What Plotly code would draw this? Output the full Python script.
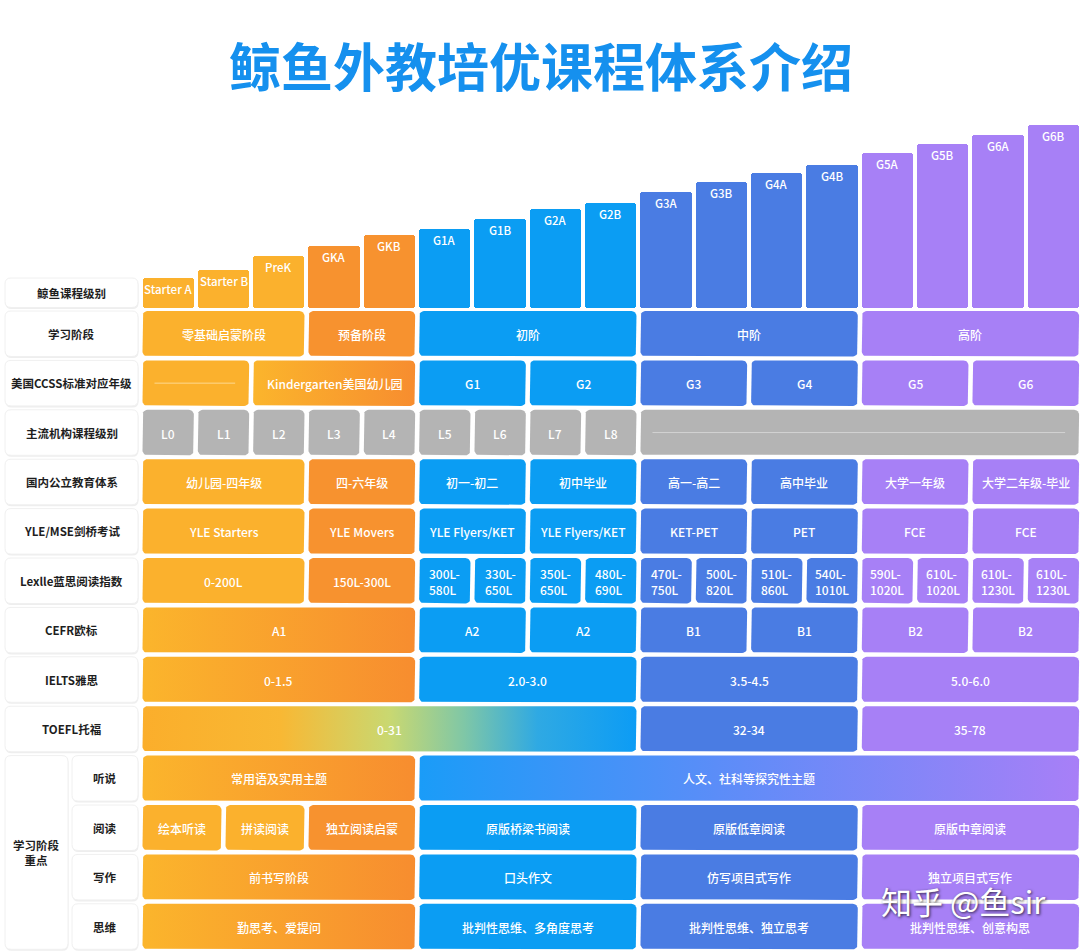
import math
import plotly.graph_objects as go

# ---------------- data ----------------
levels = ['Starter A', 'Starter B', 'PreK', 'GKA', 'GKB', 'G1A', 'G1B', 'G2A', 'G2B',
          'G3A', 'G3B', 'G4A', 'G4B', 'G5A', 'G5B', 'G6A', 'G6B']
level_heights = [30, 38, 52, 62, 73, 79, 89, 99, 105, 116, 126, 135, 143, 155, 164, 173, 183]
level_fills = ['Y', 'Y', 'Y', 'O', 'O', 'B', 'B', 'B', 'B', 'R', 'R', 'R', 'R', 'P', 'P', 'P', 'P']

title_text = '鲸鱼外教培优课程体系介绍'
row_labels = ['鲸鱼课程级别', '学习阶段', '美国CCSS标准对应年级', '主流机构课程级别', '国内公立教育体系',
              'YLE/MSE剑桥考试', 'Lexlle蓝思阅读指数', 'CEFR欧标', 'IELTS雅思', 'TOEFL托福']
focus_title = '学习阶段<br>重点'
focus_labels = ['听说', '阅读', '写作', '思维']

stage_spans = [3, 2, 4, 4, 4]
stage_texts = ['零基础启蒙阶段', '预备阶段', '初阶', '中阶', '高阶']
stage_fills = ['Y', 'O', 'B', 'R', 'P']

ccss_spans = [2, 3, 2, 2, 2, 2, 2, 2]
ccss_texts = ['', 'Kindergarten美国幼儿园', 'G1', 'G2', 'G3', 'G4', 'G5', 'G6']
ccss_fills = ['Y', 'YO', 'B', 'B', 'R', 'R', 'P', 'P']

inst_spans = [1, 1, 1, 1, 1, 1, 1, 1, 1, 8]
inst_texts = ['L0', 'L1', 'L2', 'L3', 'L4', 'L5', 'L6', 'L7', 'L8', '']
inst_fills = ['G'] * 10

public_spans = [3, 2, 2, 2, 2, 2, 2, 2]
public_texts = ['幼儿园-四年级', '四-六年级', '初一-初二', '初中毕业', '高一-高二', '高中毕业', '大学一年级', '大学二年级-毕业']
public_fills = ['Y', 'O', 'B', 'B', 'R', 'R', 'P', 'P']

yle_spans = [3, 2, 2, 2, 2, 2, 2, 2]
yle_texts = ['YLE Starters', 'YLE Movers', 'YLE Flyers/KET', 'YLE Flyers/KET', 'KET-PET', 'PET', 'FCE', 'FCE']
yle_fills = ['Y', 'O', 'B', 'B', 'R', 'R', 'P', 'P']

lexile_spans = [3, 2] + [1] * 12
lexile_texts = ['0-200L', '150L-300L', '300L-<br>580L', '330L-<br>650L', '350L-<br>650L', '480L-<br>690L',
                '470L-<br>750L', '500L-<br>820L', '510L-<br>860L', '540L-<br>1010L',
                '590L-<br>1020L', '610L-<br>1020L', '610L-<br>1230L', '610L-<br>1230L']
lexile_fills = ['Y', 'O', 'B', 'B', 'B', 'B', 'R', 'R', 'R', 'R', 'P', 'P', 'P', 'P']

cefr_spans = [5, 2, 2, 2, 2, 2, 2]
cefr_texts = ['A1', 'A2', 'A2', 'B1', 'B1', 'B2', 'B2']
cefr_fills = ['YO', 'B', 'B', 'R', 'R', 'P', 'P']

ielts_spans = [5, 4, 4, 4]
ielts_texts = ['0-1.5', '2.0-3.0', '3.5-4.5', '5.0-6.0']
ielts_fills = ['YO', 'B', 'R', 'P']

toefl_spans = [9, 4, 4]
toefl_texts = ['0-31', '32-34', '35-78']
toefl_fills = ['TF', 'R', 'P']

listen_spans = [5, 12]
listen_texts = ['常用语及实用主题', '人文、社科等探究性主题']
listen_fills = ['YO', 'BP']

read_spans = [1.5, 1.5, 2, 4, 4, 4]
read_texts = ['绘本听读', '拼读阅读', '独立阅读启蒙', '原版桥梁书阅读', '原版低章阅读', '原版中章阅读']
read_fills = ['Y', 'Y', 'O', 'B', 'R', 'P']

write_spans = [5, 4, 4, 4]
write_texts = ['前书写阶段', '口头作文', '仿写项目式写作', '独立项目式写作']
write_fills = ['YO', 'B', 'R', 'P']

think_spans = [5, 4, 4, 4]
think_texts = ['勤思考、爱提问', '批判性思维、多角度思考', '批判性思维、独立思考', '批判性思维、创意构思']
think_fills = ['YO', 'B', 'R', 'P']

watermark = '知乎 @鱼sir'

# ---------------- styles ----------------
PALETTE = {'Y': '#FBB12D', 'O': '#F7922F', 'B': '#0B9DF3', 'R': '#4A7CE3',
           'P': '#A780F6', 'G': '#B4B4B4'}
GRADIENTS = {
    'YO': [[0, '#FBB52C'], [1, '#F78D2F']],
    'TF': [[0, '#FBAE2B'], [0.28, '#F8B834'], [0.5, '#C9D871'], [0.65, '#80C7A6'],
           [0.8, '#2FA9E3'], [1, '#0C9CF5']],
    'BP': [[0, '#1A9CF8'], [0.45, '#5B8DF8'], [1, '#A87FF7']],
}
FONT = 'Noto Sans CJK SC'
W, H = 1080, 952
X0, CW = 140.5, 55.33          # column grid
GAP = 2.0
BAR_BASE = 307.5
Y1, RH, CH = 311.0, 49.4, 45.5  # table rows
LBL_X0, LBL_X1 = 5, 138

fig = go.Figure()
shapes, annotations = [], []


def rr_points(x0, y0, x1, y1, r=5, n=6):
    xs, ys = [], []
    corners = [(x1 - r, y0 + r, -90, 0), (x1 - r, y1 - r, 0, 90),
               (x0 + r, y1 - r, 90, 180), (x0 + r, y0 + r, 180, 270)]
    for cx, cy, a0, a1 in corners:
        for k in range(n + 1):
            a = math.radians(a0 + (a1 - a0) * k / n)
            xs.append(cx + r * math.cos(a))
            ys.append(cy + r * math.sin(a))
    xs.append(xs[0]); ys.append(ys[0])
    return xs, ys


def rr_path(x0, y0, x1, y1, r=6):
    return (f'M{x0 + r},{y0} L{x1 - r},{y0} Q{x1},{y0} {x1},{y0 + r} '
            f'L{x1},{y1 - r} Q{x1},{y1} {x1 - r},{y1} L{x0 + r},{y1} '
            f'Q{x0},{y1} {x0},{y1 - r} L{x0},{y0 + r} Q{x0},{y0} {x0 + r},{y0} Z')


def label_box(x0, y0, x1, y1, text, size=11.5):
    shapes.append(dict(type='path', path=rr_path(x0 + 0.5, y0 + 1.5, x1 + 0.5, y1 + 1.5),
                       fillcolor='#EEEEEE', line=dict(width=0), layer='below'))
    shapes.append(dict(type='path', path=rr_path(x0, y0, x1, y1), fillcolor='#FFFFFF',
                       line=dict(color='#F0F0F0', width=1), layer='below'))
    annotations.append(dict(x=(x0 + x1) / 2, y=(y0 + y1) / 2, text=f'<b>{text}</b>',
                            showarrow=False, xref='x', yref='y', align='center',
                            font=dict(family=FONT, size=size, color='#1E1E1E')))


def cell(x0, y0, x1, y1, text, fill):
    xs, ys = rr_points(x0, y0, x1, y1)
    tr = dict(x=xs, y=ys, mode='lines', line=dict(width=0), fill='toself',
              hoverinfo='skip', showlegend=False)
    if fill in GRADIENTS:
        tr['fillgradient'] = dict(type='horizontal', colorscale=GRADIENTS[fill], start=x0, stop=x1)
    else:
        tr['fillcolor'] = PALETTE[fill]
    fig.add_trace(go.Scatter(**tr))
    if text:
        annotations.append(dict(x=(x0 + x1) / 2, y=(y0 + y1) / 2 + 0.5, text=text, showarrow=False,
                                xref='x', yref='y', align='left',
                                font=dict(family=FONT, size=12, color='#FFFFFF', weight=500)))
    else:
        ym = (y0 + y1) / 2
        col = '#FDD88E' if fill != 'G' else '#D2D2D2'
        shapes.append(dict(type='line', x0=x0 + 12, x1=x1 - 14, y0=ym, y1=ym,
                           line=dict(color=col, width=1), layer='above'))


def table_row(r, spans, texts, fills):
    y0 = Y1 + RH * (r - 1)
    y1 = y0 + CH
    s = 0.0
    for sp, t, f in zip(spans, texts, fills):
        cell(X0 + CW * s + GAP, y0, X0 + CW * (s + sp) - GAP, y1, t, f)
        s += sp


# ---------------- bars (course levels) ----------------
centers = [X0 + CW * (i + 0.5) for i in range(len(levels))]
fig.add_trace(go.Bar(
    x=centers, y=[-h for h in level_heights], base=BAR_BASE,
    width=[CW - 2 * GAP] * len(levels),
    marker=dict(color=[PALETTE[f] for f in level_fills], line=dict(width=0), cornerradius=3),
    hoverinfo='skip', showlegend=False))
for c, h, name in zip(centers, level_heights, levels):
    annotations.append(dict(x=c, y=BAR_BASE - h + 11, text=name, showarrow=False,
                            xref='x', yref='y',
                            font=dict(family=FONT, size=11.5, color='#FFFFFF', weight=500)))

# ---------------- label column ----------------
label_box(LBL_X0, 278, LBL_X1, BAR_BASE, row_labels[0])
for r, lab in enumerate(row_labels[1:], start=1):
    y0 = Y1 + RH * (r - 1)
    label_box(LBL_X0, y0, LBL_X1, y0 + CH, lab)
fy0 = Y1 + RH * 9
fy1 = Y1 + RH * 12 + CH
label_box(LBL_X0, fy0, 68, fy1, focus_title)
for k, lab in enumerate(focus_labels):
    y0 = Y1 + RH * (9 + k)
    label_box(72, y0, LBL_X1, y0 + CH, lab)

# ---------------- table rows ----------------
table_row(1, stage_spans, stage_texts, stage_fills)
table_row(2, ccss_spans, ccss_texts, ccss_fills)
table_row(3, inst_spans, inst_texts, inst_fills)
table_row(4, public_spans, public_texts, public_fills)
table_row(5, yle_spans, yle_texts, yle_fills)
table_row(6, lexile_spans, lexile_texts, lexile_fills)
table_row(7, cefr_spans, cefr_texts, cefr_fills)
table_row(8, ielts_spans, ielts_texts, ielts_fills)
table_row(9, toefl_spans, toefl_texts, toefl_fills)
table_row(10, listen_spans, listen_texts, listen_fills)
table_row(11, read_spans, read_texts, read_fills)
table_row(12, write_spans, write_texts, write_fills)
table_row(13, think_spans, think_texts, think_fills)

# ---------------- title & watermark ----------------
annotations.append(dict(x=541, y=64, text=f'<b>{title_text}</b>', showarrow=False, xref='x', yref='y',
                        font=dict(family=FONT, size=52, color='#1590EE')))
annotations.append(dict(x=963, y=900, text=watermark, showarrow=False, xref='x', yref='y',
                        font=dict(family=FONT, size=31, color='#FFFFFF',
                                  shadow='1px 1px 3px rgba(0,0,0,0.75)')))

fig.update_layout(
    width=W, height=H, margin=dict(l=0, r=0, t=0, b=0),
    paper_bgcolor='#FFFFFF', plot_bgcolor='#FFFFFF',
    xaxis=dict(range=[0, W], visible=False, fixedrange=True),
    yaxis=dict(range=[H, 0], visible=False, fixedrange=True),
    shapes=shapes, annotations=annotations, showlegend=False, bargap=0,
)
fig.write_html('out.html', config={'displayModeBar': False},
               post_script="document.body.style.margin='0';document.body.style.overflow='hidden';")
